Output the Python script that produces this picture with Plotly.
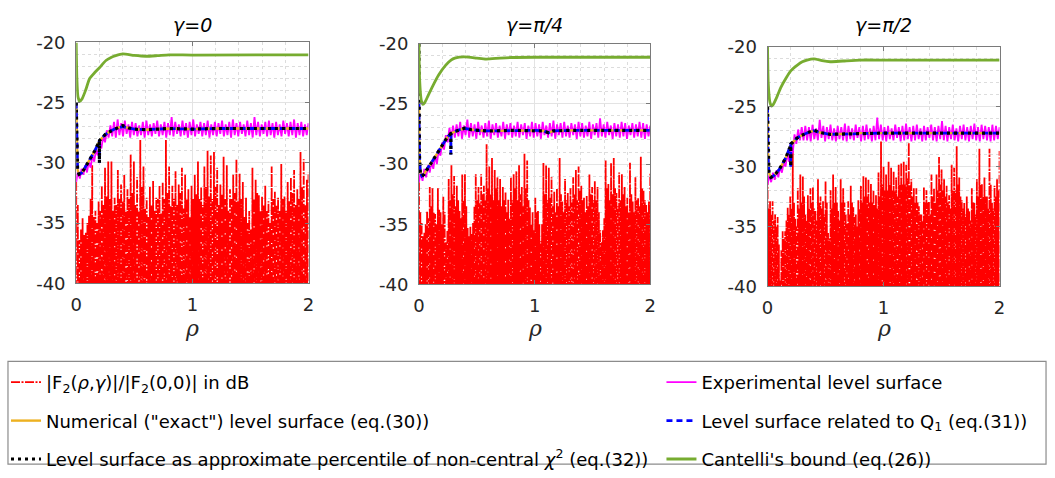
import numpy as np
import plotly.graph_objects as go

# ---------------------------------------------------------------------------
# Data: level surfaces of |F2(rho, gamma)| / |F2(0,0)| (dB) versus rho
# ---------------------------------------------------------------------------
GAMMA_TITLES = ["γ=0", "γ=π/4", "γ=π/2"]
RHO_RANGE = [0, 2]
DB_RANGE = [-40, -20]
RHO_TICKS = [0, 1, 2]
DB_TICKS = [-40, -35, -30, -25, -20]
DB_TICK_LABELS = ["-40", "-35", "-30", "-25", "-20"]
FLOOR_DB = -60.0  # depth of the nulls between successive |F2| lobes

# |F2| lobe maxima (dB), evenly spread over rho in [0, 2]
F2_PEAKS_G0 = [
    -31.6, -33.5, -36.4, -35.5, -34.6, -36.0, -35.8, -35.0, -34.4, -33.0, -30.2, -34.5, -34.0, -35.0,
    -33.2, -34.0, -31.9, -33.5, -30.4, -32.8, -29.9, -33.0, -29.9, -34.0, -32.9, -33.5, -30.6, -33.0,
    -31.8, -33.2, -31.0, -34.0, -32.2, -33.0, -29.3, -32.5, -29.9, -33.5, -31.2, -34.0, -28.1, -32.0,
    -30.3, -33.8, -32.9, -34.5, -32.0, -33.5, -31.5, -34.0, -32.9, -33.0, -31.9, -34.2, -31.6, -33.0,
    -28.1, -32.5, -30.3, -33.6, -31.9, -33.0, -30.7, -33.5, -31.8, -32.5, -30.4, -33.8, -31.0, -33.0,
    -32.2, -34.5, -31.9, -33.0, -31.0, -32.6, -29.9, -33.0, -32.0, -33.5, -30.3, -32.0, -29.0, -32.8,
    -29.4, -33.0, -29.1, -32.0, -30.4, -33.5, -31.8, -32.6, -29.5, -33.0, -30.2, -34.0, -32.2, -33.0,
    -31.0, -32.5, -29.7, -33.2, -30.9, -33.0, -31.6, -34.5, -32.9, -35.0, -34.0, -35.5, -30.4, -33.0,
    -31.4, -32.5, -32.7, -34.0, -32.8, -33.5, -31.9, -34.0, -33.2, -35.0, -30.3, -33.0, -32.4, -33.5,
    -32.9, -34.0, -30.1, -33.0, -32.8, -34.0, -31.6, -33.2, -31.2, -32.5, -30.6, -33.5, -32.2, -33.0,
    -29.1, -32.0, -29.7, -33.5, -31.4, -30.8,
]
F2_PEAKS_G45 = [
    -31.5, -34.0, -34.9, -36.0, -35.7, -35.0, -33.9, -34.5, -31.9, -33.5, -32.0, -34.0, -34.15, -35.0,
    -32.0, -33.8, -34.0, -35.0, -32.7, -34.0, -36.5, -35.5, -31.25, -33.0, -30.1, -32.5, -31.0, -33.5,
    -31.8, -33.0, -33.9, -34.5, -30.85, -33.0, -30.85, -33.5, -35.3, -36.0, -35.2, -35.8, -34.9, -33.5,
    -30.85, -33.0, -31.9, -33.2, -30.85, -32.5, -31.8, -33.0, -28.35, -32.0, -30.2, -32.5, -29.5, -33.0,
    -30.5, -32.0, -31.1, -33.0, -31.25, -33.5, -31.9, -33.0, -32.3, -34.0, -32.96, -34.5, -31.1, -33.0,
    -30.85, -32.0, -30.6, -33.0, -30.1, -32.5, -31.9, -33.5, -29.15, -32.0, -29.7, -33.0, -33.6, -35.0,
    -34.0, -35.5, -32.8, -34.0, -33.9, -35.0, -36.4, -35.0, -29.9, -32.5, -30.1, -33.0, -30.3, -32.8,
    -31.1, -33.5, -32.3, -34.0, -32.0, -33.5, -29.5, -32.5, -33.1, -34.0, -31.25, -33.0, -32.4, -33.5,
    -32.0, -33.2, -31.1, -32.5, -30.5, -33.0, -30.2, -32.2, -31.8, -33.0, -32.8, -34.0, -32.6, -33.5,
    -30.85, -32.5, -31.9, -33.0, -31.4, -33.0, -31.9, -34.0, -35.5, -36.5, -35.5, -34.5, -29.7, -32.0,
    -31.65, -33.0, -29.9, -32.5, -29.5, -32.0, -32.4, -33.5, -30.7, -33.0, -30.85, -32.5, -31.9, -33.5,
    -32.8, -34.0, -29.9, -32.5, -33.1, -34.0, -31.1, -33.0, -32.8, -33.5, -29.4, -32.0, -32.2, -33.0,
    -33.4, -34.0, -33.1, -30.8,
]
F2_PEAKS_G90 = [
    -30.8, -33.5, -32.9, -34.0, -32.9, -34.5, -34.0, -35.0, -34.2, -36.5, -39.5, -37.0, -35.4, -36.0,
    -35.4, -34.5, -33.4, -34.0, -32.5, -33.5, -28.7, -33.0, -34.35, -35.0, -31.8, -33.5, -30.65, -33.0,
    -30.8, -32.5, -34.0, -34.5, -32.4, -33.5, -31.8, -33.0, -31.7, -33.5, -33.7, -34.5, -31.05, -33.0,
    -32.5, -33.5, -32.9, -34.0, -31.2, -33.0, -35.55, -36.0, -31.97, -33.5, -30.65, -33.0, -31.7, -33.0,
    -33.7, -34.5, -31.05, -33.0, -31.8, -33.0, -34.0, -34.8, -32.9, -34.0, -31.6, -33.0, -33.4, -34.2,
    -34.0, -35.0, -32.8, -33.5, -31.6, -33.0, -30.8, -32.5, -30.9, -32.5, -31.05, -33.0, -31.45, -33.0,
    -31.97, -33.2, -32.4, -33.5, -30.5, -32.5, -27.9, -31.5, -30.0, -32.0, -30.65, -32.0, -29.6, -31.5,
    -30.1, -32.0, -30.4, -32.0, -30.9, -32.5, -29.85, -31.5, -29.7, -31.5, -29.6, -31.5, -29.85, -31.0,
    -28.0, -31.5, -31.05, -32.5, -31.8, -33.0, -31.8, -33.0, -33.3, -34.0, -34.0, -34.5, -31.7, -33.0,
    -31.97, -33.0, -32.9, -34.0, -30.65, -32.5, -31.8, -33.0, -30.65, -32.0, -29.2, -31.5, -30.25, -32.0,
    -31.05, -32.5, -31.6, -33.0, -32.4, -33.5, -29.85, -32.0, -30.1, -32.0, -28.3, -31.5, -30.9, -32.5,
    -32.8, -33.5, -33.03, -34.0, -32.5, -33.5, -33.7, -34.5, -31.8, -33.0, -33.03, -34.0, -31.05, -32.5,
    -28.5, -31.5, -31.45, -32.5, -30.9, -32.5, -32.5, -33.5, -28.5, -31.5, -33.03, -33.5, -31.6, -32.5,
    -31.05, -32.0, -28.7,
]

# Experimental level surface (dB), evenly spread over rho in [0, 2]
EXPER_G0 = [
    -31.6, -30.6, -31.3, -30.5, -31.0, -30.2, -30.8, -29.9, -30.4, -29.4, -29.9, -28.9, -29.4, -28.3,
    -28.8, -27.8, -28.3, -27.3, -27.9, -26.9,
    -27.8, -26.6, -27.9, -26.4, -27.7, -26.7, -27.8, -26.5, -27.6, -26.8,
    -27.9, -26.6, -27.7, -26.7, -27.8, -26.9, -27.7, -26.6, -27.9, -26.5,
    -27.7, -26.8, -27.8, -26.7, -27.6, -26.5, -27.8, -26.8, -27.7, -26.6,
    -27.9, -26.7, -27.7, -26.2, -27.8, -26.6, -27.6, -26.8, -27.8, -26.5,
    -27.7, -26.7, -27.9, -26.6, -27.7, -26.4, -27.8, -26.8, -27.6, -26.6,
    -27.8, -26.7, -27.7, -26.5, -27.9, -26.8, -27.7, -26.6, -27.8, -26.7,
    -27.6, -26.5, -27.8, -26.8, -27.7, -26.6, -27.9, -26.4, -27.7, -26.7,
    -27.8, -26.6, -27.6, -26.8, -27.8, -26.5, -27.7, -26.7, -27.9, -26.2,
    -27.7, -26.6, -27.8, -26.8, -27.6, -26.6, -27.8, -26.5, -27.7, -26.7,
    -27.9, -26.6, -27.7, -26.8, -27.8, -26.5, -27.6, -26.7, -27.8, -26.6,
    -27.7, -26.4, -27.9, -26.7, -27.7, -26.6, -27.8, -26.8, -27.7, -26.7,
]
EXPER_G45 = [
    -31.5, -30.6, -31.4, -30.4, -31.1, -30.1, -30.7, -29.8, -30.4, -29.3, -30.0, -28.8, -29.3, -28.2,
    -28.8, -27.6, -28.2, -27.0, -27.9, -26.8, -27.8,
    -26.7, -27.7, -26.5, -27.9, -26.8, -27.6, -26.3, -27.8, -26.6, -27.7,
    -26.7, -27.9, -26.5, -27.6, -26.8, -27.8, -26.6, -27.7, -26.4, -27.9,
    -26.7, -27.6, -26.6, -27.8, -26.8, -27.7, -26.5, -27.9, -26.7, -27.6,
    -26.6, -27.8, -26.8, -27.7, -26.5, -27.8, -26.7, -27.6, -26.6, -27.9,
    -26.8, -27.7, -26.5, -27.8, -26.6, -27.7, -26.7, -27.9, -26.5, -27.6,
    -26.8, -27.8, -26.6, -27.7, -26.4, -27.9, -26.7, -27.6, -26.6, -27.8,
    -26.5, -27.7, -26.8, -27.8, -26.6, -27.6, -26.7, -27.9, -26.5, -27.7,
    -26.6, -27.8, -26.8, -27.7, -26.5, -27.9, -26.7, -27.6, -26.6, -27.8,
    -26.2, -27.7, -26.7, -27.8, -26.5, -27.6, -26.8, -27.9, -26.6, -27.7,
    -26.7, -27.8, -26.5, -27.7, -26.6, -27.9, -26.8, -27.6, -26.6, -27.8,
    -26.7, -27.7, -26.5, -27.8, -26.6, -27.9, -26.7, -27.7, -26.8,
]
EXPER_G90 = [
    -31.5, -30.7, -31.3, -30.5, -31.1, -30.3, -30.9, -30.0, -30.5, -29.6, -30.0, -28.9, -29.6, -28.0,
    -28.9, -27.3, -28.1, -26.9, -27.8, -26.7, -27.8,
    -26.6, -27.8, -26.7, -27.9, -26.5, -27.7, -26.8, -27.8, -26.1, -27.6,
    -26.6, -27.9, -26.7, -27.7, -26.5, -27.8, -26.8, -27.9, -26.6, -27.7,
    -26.7, -27.8, -26.4, -27.9, -26.6, -27.7, -26.8, -27.8, -26.5, -27.6,
    -26.7, -27.9, -26.6, -27.8, -26.5, -27.7, -26.8, -27.9, -26.6, -27.8,
    -25.9, -27.7, -26.5, -27.8, -26.7, -27.9, -26.6, -27.7, -26.8, -27.8,
    -26.5, -27.6, -26.7, -27.9, -26.6, -27.8, -26.4, -27.7, -26.7, -27.9,
    -26.6, -27.8, -26.5, -27.7, -26.8, -27.9, -26.6, -27.8, -26.7, -27.6,
    -26.5, -27.8, -26.7, -27.9, -26.6, -27.7, -26.2, -27.8, -26.6, -27.9,
    -26.7, -27.7, -26.5, -27.8, -26.8, -27.9, -26.6, -27.7, -26.5, -27.8,
    -26.7, -27.9, -26.6, -27.7, -26.4, -27.8, -26.7, -27.9, -26.5, -27.7,
    -26.6, -27.8, -26.7, -27.9, -26.5, -27.8, -26.6, -27.7, -26.7,
]

# Numerical ("exact") level surface, eq.(30)
EXACT_RHO_G0 = [0, 0.004, 0.012, 0.025, 0.045, 0.07, 0.1, 0.13, 0.16, 0.19, 0.22, 0.25, 0.28, 0.31,
                0.35, 0.4, 0.45, 0.5, 0.6, 0.7, 0.8, 1.0, 1.2, 1.5, 2.0]
EXACT_G0 = [-25.0, -29.0, -30.6, -30.95, -30.85, -30.5, -30.0, -29.55, -29.0, -28.4, -27.95, -27.65,
            -27.45, -27.3, -27.1, -27.0, -27.1, -27.2, -27.25, -27.2, -27.15, -27.2, -27.15, -27.15, -27.15]
EXACT_RHO_G45 = [0, 0.004, 0.012, 0.025, 0.045, 0.07, 0.1, 0.13, 0.16, 0.19, 0.22, 0.25, 0.28, 0.31,
                 0.35, 0.4, 0.45, 0.5, 0.6, 0.8, 1.0, 1.08, 1.12, 1.16, 1.3, 1.6, 2.0]
EXACT_G45 = [-25.0, -29.2, -30.7, -31.0, -30.85, -30.4, -30.0, -29.55, -29.1, -28.6, -28.1, -27.7,
             -27.45, -27.3, -27.15, -27.05, -27.15, -27.2, -27.25, -27.2, -27.2, -27.25, -27.4, -27.25,
             -27.2, -27.2, -27.2]
EXACT_RHO_G90 = [0, 0.004, 0.012, 0.029, 0.05, 0.075, 0.1, 0.13, 0.16, 0.19, 0.22, 0.25, 0.28, 0.31,
                 0.35, 0.4, 0.45, 0.54, 0.7, 0.8, 1.0, 1.5, 2.0]
EXACT_G90 = [-25.0, -29.0, -30.5, -30.9, -30.8, -30.55, -30.25, -29.75, -29.2, -28.45, -27.95, -27.65,
             -27.45, -27.3, -27.15, -27.0, -27.15, -27.3, -27.25, -27.2, -27.2, -27.2, -27.2]

# Level surface related to Q1, eq.(31)
Q1_RHO_G0 = [0, 0.004, 0.012, 0.025, 0.045, 0.07, 0.1, 0.13, 0.16, 0.19, 0.199, 0.2, 0.201, 0.22, 0.25,
             0.28, 0.31, 0.35, 0.4, 0.45, 0.5, 0.6, 0.7, 0.8, 1.0, 1.2, 1.5, 2.0]
Q1_G0 = [-25.0, -29.0, -30.6, -30.95, -30.85, -30.5, -30.0, -29.55, -29.0, -28.4, -28.2, -30.0, -28.15,
         -27.95, -27.65, -27.45, -27.3, -27.1, -27.0, -27.1, -27.2, -27.25, -27.2, -27.15, -27.2, -27.15,
         -27.15, -27.15]
Q1_RHO_G45 = [0, 0.004, 0.012, 0.025, 0.045, 0.07, 0.1, 0.13, 0.16, 0.19, 0.22, 0.25, 0.275, 0.276,
              0.277, 0.31, 0.35, 0.4, 0.45, 0.5, 0.6, 0.8, 1.0, 1.08, 1.12, 1.16, 1.3, 1.6, 2.0]
Q1_G45 = [-25.0, -29.2, -30.7, -31.0, -30.85, -30.4, -30.0, -29.55, -29.1, -28.6, -28.1, -27.7, -27.5,
          -29.2, -27.45, -27.3, -27.15, -27.05, -27.15, -27.2, -27.25, -27.2, -27.2, -27.25, -27.4,
          -27.25, -27.2, -27.2, -27.2]
Q1_RHO_G90 = [0, 0.004, 0.012, 0.029, 0.05, 0.075, 0.1, 0.13, 0.16, 0.19, 0.199, 0.2, 0.201, 0.22, 0.25,
              0.28, 0.31, 0.35, 0.4, 0.45, 0.54, 0.7, 0.8, 1.0, 1.5, 2.0]
Q1_G90 = [-25.0, -29.0, -30.5, -30.9, -30.8, -30.55, -30.25, -29.75, -29.2, -28.45, -28.2, -30.0, -28.1,
          -27.95, -27.65, -27.45, -27.3, -27.15, -27.0, -27.15, -27.3, -27.25, -27.2, -27.2, -27.2, -27.2]

# Approximate percentile of the non-central chi-square, eq.(32)
CHI2_RHO_G0 = Q1_RHO_G0
CHI2_G0 = [-25.0, -29.0, -30.6, -30.95, -30.85, -30.5, -30.0, -29.55, -29.0, -28.4, -28.2, -30.0, -28.15,
           -27.95, -27.65, -27.45, -27.3, -27.1, -26.9, -27.1, -27.2, -27.25, -27.2, -27.15, -27.2,
           -27.15, -27.15, -27.15]
CHI2_RHO_G45 = Q1_RHO_G45
CHI2_G45 = [-20.0, -29.2, -30.7, -31.0, -30.85, -30.4, -30.0, -29.55, -29.1, -28.6, -28.1, -27.7, -27.5,
            -29.2, -27.45, -27.3, -27.15, -27.0, -27.15, -27.2, -27.25, -27.2, -27.2, -27.25, -27.4,
            -27.25, -27.2, -27.2, -27.2]
CHI2_RHO_G90 = Q1_RHO_G90
CHI2_G90 = [-25.0, -29.0, -30.5, -30.9, -30.8, -30.55, -30.25, -29.75, -29.2, -28.45, -28.2, -30.0, -28.1,
            -27.95, -27.65, -27.45, -27.3, -27.15, -26.95, -27.15, -27.3, -27.25, -27.2, -27.2, -27.2,
            -27.2]

# Cantelli's bound, eq.(26)
CANT_RHO_G0 = [0, 0.006, 0.015, 0.03, 0.05, 0.08, 0.116, 0.16, 0.2, 0.256, 0.3, 0.34, 0.4, 0.5, 0.6,
               0.7, 0.8, 1.0, 2.0]
CANT_G0 = [-20.0, -23.0, -24.5, -24.9, -24.7, -24.0, -23.0, -22.5, -22.1, -21.5, -21.25, -21.1, -20.95,
           -21.08, -21.15, -21.1, -21.03, -21.05, -21.03]
CANT_RHO_G45 = [0, 0.006, 0.02, 0.034, 0.05, 0.08, 0.12, 0.17, 0.23, 0.28, 0.31, 0.35, 0.4, 0.5, 0.58,
                0.7, 0.8, 1.0, 2.0]
CANT_G45 = [-20.0, -23.0, -24.7, -25.05, -24.9, -24.3, -23.5, -22.6, -21.8, -21.35, -21.2, -21.12,
            -21.1, -21.2, -21.28, -21.2, -21.15, -21.13, -21.13]
CANT_RHO_G90 = [0, 0.006, 0.02, 0.034, 0.05, 0.08, 0.114, 0.16, 0.2, 0.26, 0.3, 0.34, 0.4, 0.47, 0.54,
                0.65, 0.8, 1.0, 2.0]
CANT_G90 = [-20.0, -23.0, -24.6, -24.95, -24.8, -24.2, -23.4, -22.6, -22.0, -21.5, -21.25, -21.1, -21.0,
            -21.15, -21.24, -21.18, -21.1, -21.1, -21.1]

PANELS = [
    dict(title=GAMMA_TITLES[0], peaks=F2_PEAKS_G0, exper=EXPER_G0,
         exact=(EXACT_RHO_G0, EXACT_G0), q1=(Q1_RHO_G0, Q1_G0),
         chi2=(CHI2_RHO_G0, CHI2_G0), cant=(CANT_RHO_G0, CANT_G0)),
    dict(title=GAMMA_TITLES[1], peaks=F2_PEAKS_G45, exper=EXPER_G45,
         exact=(EXACT_RHO_G45, EXACT_G45), q1=(Q1_RHO_G45, Q1_G45),
         chi2=(CHI2_RHO_G45, CHI2_G45), cant=(CANT_RHO_G45, CANT_G45)),
    dict(title=GAMMA_TITLES[2], peaks=F2_PEAKS_G90, exper=EXPER_G90,
         exact=(EXACT_RHO_G90, EXACT_G90), q1=(Q1_RHO_G90, Q1_G90),
         chi2=(CHI2_RHO_G90, CHI2_G90), cant=(CANT_RHO_G90, CANT_G90)),
]

NAMES = {
    "f2": "|F<sub>2</sub>(<i>ρ</i>,<i>γ</i>)|/|F<sub>2</sub>(0,0)| in dB",
    "exper": "Experimental level surface",
    "exact": "Numerical (\"exact\") level surface (eq.(30))",
    "q1": "Level surface related to Q<sub>1</sub> (eq.(31))",
    "chi2": "Level surface as approximate percentile of non-central <i>χ</i><sup>2</sup> (eq.(32))",
    "cant": "Cantelli's bound (eq.(26))",
}

# ---------------------------------------------------------------------------
# Layout geometry (figure is 1055 x 478 px, margins zero -> paper = pixels)
# ---------------------------------------------------------------------------
W, H = 1055, 478
X_DOMAINS = [[71 / W, 306 / W], [417.7 / W, 651.7 / W], [770.3 / W, 1005 / W]]
Y_DOMAINS = [[1 - 286 / H, 1 - 33 / H], [1 - 287.3 / H, 1 - 34.3 / H], [1 - 289.3 / H, 1 - 37.7 / H]]

FONT = "DejaVu Sans, Liberation Sans, Arial, sans-serif"
INK = "#262626"

fig = go.Figure()

for i, p in enumerate(PANELS):
    xa = "x" if i == 0 else f"x{i + 1}"
    ya = "y" if i == 0 else f"y{i + 1}"
    first = i == 0

    # |F2| in dB: lobe maxima separated by deep nulls
    peaks = np.asarray(p["peaks"], dtype=float)
    f2_rho = np.linspace(RHO_RANGE[0], RHO_RANGE[1], 2 * len(peaks) - 1)
    f2_db = np.full(f2_rho.shape, FLOOR_DB)
    f2_db[0::2] = peaks
    fig.add_trace(go.Scatter(
        x=f2_rho, y=f2_db, mode="lines", xaxis=xa, yaxis=ya,
        line=dict(color="#FF0000", width=1.8, dash="9px,1.5px,2px,1.5px"),
        name=NAMES["f2"], legendgroup="f2", legend="legend", showlegend=first,
    ))

    exper = np.asarray(p["exper"], dtype=float)
    fig.add_trace(go.Scatter(
        x=np.linspace(RHO_RANGE[0], RHO_RANGE[1], len(exper)), y=exper, mode="lines",
        xaxis=xa, yaxis=ya, line=dict(color="#FF00FF", width=1.8),
        name=NAMES["exper"], legendgroup="exper", legend="legend2", showlegend=first,
    ))

    fig.add_trace(go.Scatter(
        x=p["exact"][0], y=p["exact"][1], mode="lines", xaxis=xa, yaxis=ya,
        line=dict(color="#EDB120", width=2.4),
        name=NAMES["exact"], legendgroup="exact", legend="legend", showlegend=first,
    ))
    fig.add_trace(go.Scatter(
        x=p["q1"][0], y=p["q1"][1], mode="lines", xaxis=xa, yaxis=ya,
        line=dict(color="#0000FF", width=2.8, dash="6px,4px"),
        name=NAMES["q1"], legendgroup="q1", legend="legend2", showlegend=first,
    ))
    fig.add_trace(go.Scatter(
        x=p["chi2"][0], y=p["chi2"][1], mode="lines", xaxis=xa, yaxis=ya,
        line=dict(color="#000000", width=3.2, dash="3px,4px"),
        name=NAMES["chi2"], legendgroup="chi2", legend="legend", showlegend=first,
    ))
    fig.add_trace(go.Scatter(
        x=p["cant"][0], y=p["cant"][1], mode="lines", xaxis=xa, yaxis=ya,
        line=dict(color="#77AC30", width=2.8, shape="spline", smoothing=0.6),
        name=NAMES["cant"], legendgroup="cant", legend="legend2", showlegend=first,
    ))

axis_common = dict(
    showline=True, linecolor="#7a7a7a", linewidth=1, mirror="ticks",
    ticks="inside", ticklen=4, tickcolor="#7a7a7a",
    showgrid=True, gridcolor="#e3e3e3", gridwidth=1,
    zeroline=False, tickfont=dict(family=FONT, size=18, color=INK),
)
layout_axes = {}
annotations = []
for i in range(3):
    sx = "" if i == 0 else str(i + 1)
    layout_axes[f"xaxis{sx}"] = dict(
        axis_common, domain=X_DOMAINS[i], range=RHO_RANGE, anchor=f"y{sx}",
        tickvals=RHO_TICKS, ticktext=[str(v) for v in RHO_TICKS], ticklabelstandoff=5,
        minor=dict(dtick=0.2, showgrid=True, gridcolor="#dcdcdc", griddash="dot", ticks=""),
    )
    layout_axes[f"yaxis{sx}"] = dict(
        axis_common, domain=Y_DOMAINS[i], range=DB_RANGE, anchor=f"x{sx}",
        tickvals=DB_TICKS, ticktext=DB_TICK_LABELS, ticklabelstandoff=6,
        minor=dict(dtick=1, showgrid=True, gridcolor="#dcdcdc", griddash="dot", ticks=""),
    )
    cx = (X_DOMAINS[i][0] + X_DOMAINS[i][1]) / 2
    annotations.append(dict(
        text=f"<i>{PANELS[i]['title']}</i>", x=cx, y=1 - 15 / H, xref="paper", yref="paper",
        showarrow=False, xanchor="center", yanchor="middle",
        font=dict(family=FONT, size=19, color="#000000"),
    ))
    annotations.append(dict(
        text="<i>ρ</i>", x=cx, y=1 - 334 / H, xref="paper", yref="paper",
        showarrow=False, xanchor="center", yanchor="middle",
        font=dict(family="DejaVu Serif, Liberation Serif, serif", size=22, color=INK),
    ))

legend_common = dict(
    orientation="v", xanchor="left", yanchor="top", bgcolor="rgba(0,0,0,0)",
    borderwidth=0, font=dict(family=FONT, size=18, color="#000000"),
    tracegroupgap=12, itemwidth=30,
)

fig.update_layout(
    width=W, height=H,
    margin=dict(l=0, r=0, t=0, b=0, pad=0),
    paper_bgcolor="#FFFFFF", plot_bgcolor="#FFFFFF",
    annotations=annotations,
    legend=dict(legend_common, x=0, y=1 - 371 / H),
    legend2=dict(legend_common, x=663 / W, y=1 - 371 / H),
    shapes=[dict(type="rect", xref="paper", yref="paper",
                 x0=2 / W, x1=1052 / W, y0=1 - 476 / H, y1=1 - 368 / H,
                 line=dict(color="#8c8c8c", width=1.2), fillcolor="rgba(0,0,0,0)", layer="below")],
    **layout_axes,
)

fig.write_html("out.html")
